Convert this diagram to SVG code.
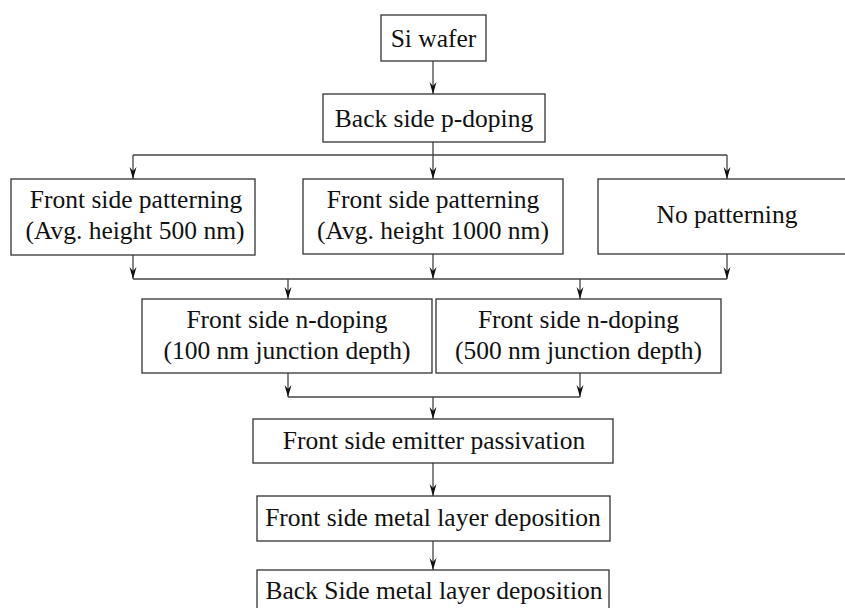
<svg xmlns="http://www.w3.org/2000/svg" width="845" height="608" viewBox="0 0 845 608">
<style>
.box{fill:#fff;stroke:#333;stroke-width:1.3}
.c{fill:none;stroke:#444;stroke-width:1.3}
</style>
<defs>
<marker id="ah" viewBox="0 0 12 8" markerWidth="12" markerHeight="8" refX="12" refY="4" orient="auto" markerUnits="userSpaceOnUse">
<path d="M0,0.5 L12,4 L0,7.5 L4,4 Z" fill="#111"/>
</marker>
</defs>
<rect width="845" height="608" fill="#fff"/>
<g id="connectors">
<path class="c" d="M433,61 V94" marker-end="url(#ah)"/>
<path class="c" d="M433,142 V155 M133,155 H727"/>
<path class="c" d="M133,155 V179" marker-end="url(#ah)"/>
<path class="c" d="M433,155 V179" marker-end="url(#ah)"/>
<path class="c" d="M727,155 V179" marker-end="url(#ah)"/>
<path class="c" d="M133,255 V279" marker-end="url(#ah)"/>
<path class="c" d="M433,254 V279" marker-end="url(#ah)"/>
<path class="c" d="M727,254 V279" marker-end="url(#ah)"/>
<path class="c" d="M133,279 H727"/>
<path class="c" d="M288,279 V299" marker-end="url(#ah)"/>
<path class="c" d="M580,279 V299" marker-end="url(#ah)"/>
<path class="c" d="M288,373 V397" marker-end="url(#ah)"/>
<path class="c" d="M580,373 V397" marker-end="url(#ah)"/>
<path class="c" d="M288,397 H580"/>
<path class="c" d="M433,397 V419" marker-end="url(#ah)"/>
<path class="c" d="M433,463 V496" marker-end="url(#ah)"/>
<path class="c" d="M433,541 V570" marker-end="url(#ah)"/>
</g>
<g id="si-wafer"><rect class="box" x="381" y="15" width="105" height="46"/><text x="433.5" y="46.5" font-family="Liberation Serif" font-size="25.5" fill="#111" text-anchor="middle">Si wafer</text></g>
<g id="back-p-doping"><rect class="box" x="323" y="94" width="222" height="48"/><text x="434" y="126.5" font-family="Liberation Serif" font-size="25.5" fill="#111" text-anchor="middle">Back side p-doping</text></g>
<g id="pattern-500"><rect class="box" x="11" y="179" width="244" height="76"/><text x="136" y="208" font-family="Liberation Serif" font-size="25.5" fill="#111" text-anchor="middle">Front side patterning</text><text x="135" y="239" font-family="Liberation Serif" font-size="25.5" fill="#111" text-anchor="middle">(Avg. height 500 nm)</text></g>
<g id="pattern-1000"><rect class="box" x="303" y="179" width="260" height="75"/><text x="433" y="208" font-family="Liberation Serif" font-size="25.5" fill="#111" text-anchor="middle">Front side patterning</text><text x="433" y="239" font-family="Liberation Serif" font-size="25.5" fill="#111" text-anchor="middle">(Avg. height 1000 nm)</text></g>
<g id="no-pattern"><rect class="box" x="598" y="179" width="260" height="75"/><text x="727" y="223" font-family="Liberation Serif" font-size="25.5" fill="#111" text-anchor="middle">No patterning</text></g>
<g id="n-doping-100"><rect class="box" x="142" y="299" width="290" height="74"/><text x="287" y="328" font-family="Liberation Serif" font-size="25.5" fill="#111" text-anchor="middle">Front side n-doping</text><text x="287" y="359" font-family="Liberation Serif" font-size="25.5" fill="#111" text-anchor="middle">(100 nm junction depth)</text></g>
<g id="n-doping-500"><rect class="box" x="436" y="299" width="285" height="74"/><text x="578.5" y="328" font-family="Liberation Serif" font-size="25.5" fill="#111" text-anchor="middle">Front side n-doping</text><text x="578.5" y="359" font-family="Liberation Serif" font-size="25.5" fill="#111" text-anchor="middle">(500 nm junction depth)</text></g>
<g id="emitter-passivation"><rect class="box" x="253" y="419" width="360" height="44"/><text x="434" y="449" font-family="Liberation Serif" font-size="25.5" fill="#111" text-anchor="middle">Front side emitter passivation</text></g>
<g id="front-metal"><rect class="box" x="257" y="496" width="353" height="45"/><text x="433" y="526" font-family="Liberation Serif" font-size="25.5" fill="#111" text-anchor="middle">Front side metal layer deposition</text></g>
<g id="back-metal"><rect class="box" x="257" y="570" width="352" height="45"/><text x="434" y="599" font-family="Liberation Serif" font-size="25.5" fill="#111" text-anchor="middle">Back Side metal layer deposition</text></g>
</svg>
